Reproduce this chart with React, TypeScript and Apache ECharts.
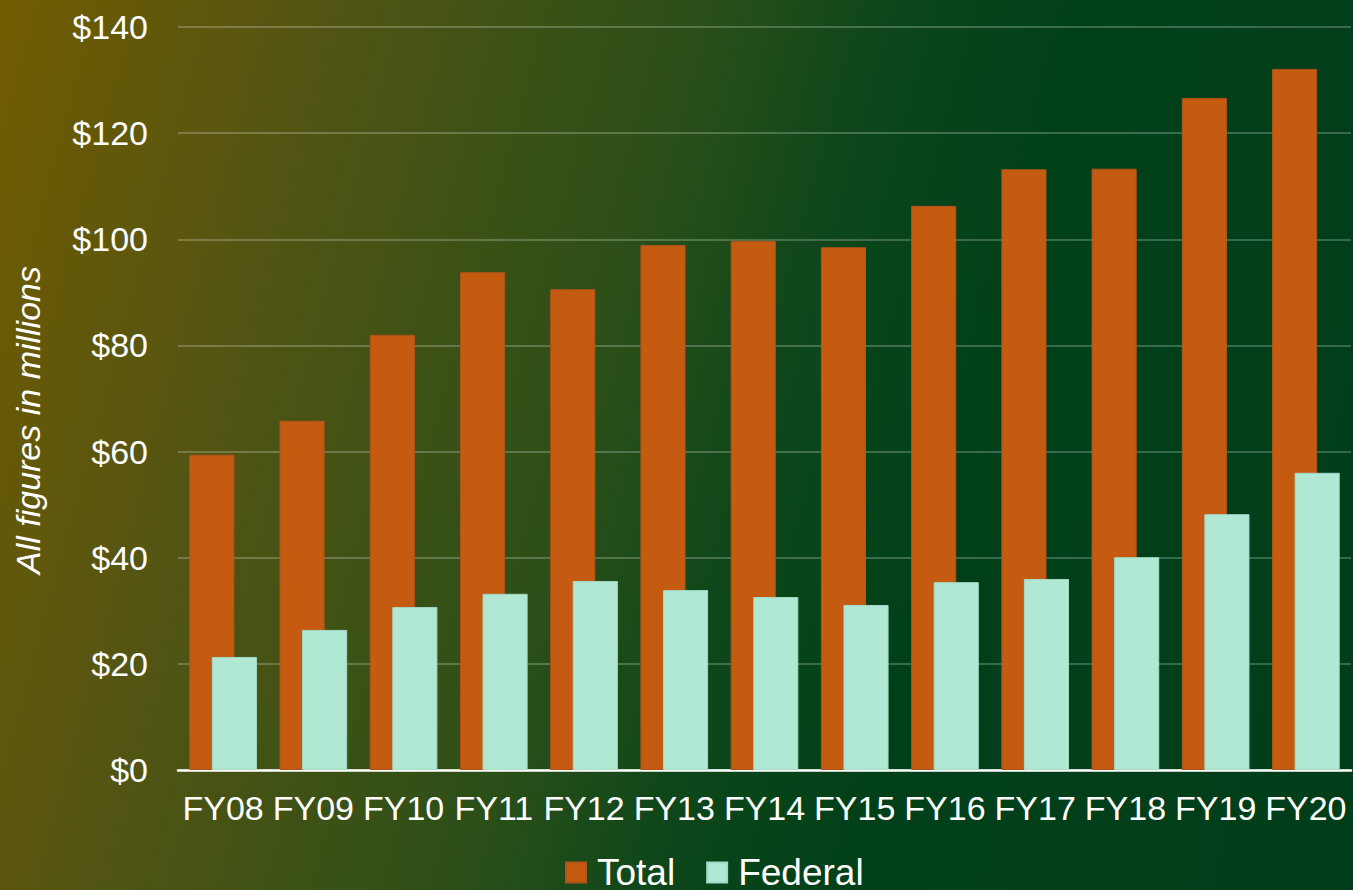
import React, { useEffect, useRef } from "react";
import * as echarts from "echarts";

const categories = ["FY08", "FY09", "FY10", "FY11", "FY12", "FY13", "FY14", "FY15", "FY16", "FY17", "FY18", "FY19", "FY20"];
const totalValues = [59.4, 65.8, 82.0, 93.8, 90.6, 98.9, 99.7, 98.5, 106.3, 113.2, 113.3, 126.6, 132.1];
const federalValues = [21.3, 26.4, 30.7, 33.2, 35.6, 33.9, 32.6, 31.1, 35.4, 36.0, 40.1, 48.2, 56.0];
const seriesNames = ["Total", "Federal"];
const yAxisName = "All figures in millions";

const FONT = "'Liberation Sans', Arial, sans-serif";

export default function App() {
  const ref = useRef<HTMLDivElement>(null);
  useEffect(() => {
    if (!ref.current) return;
    const chart = echarts.init(ref.current, null, { renderer: "svg" });
    chart.setOption({
      animation: false,
      backgroundColor: "transparent",
      textStyle: { fontFamily: FONT },
      grid: { left: 178, right: 2, top: 27, bottom: 120, containLabel: false },
      legend: {
        left: 565,
        top: 854,
        padding: 0,
        itemWidth: 20,
        itemHeight: 20,
        itemGap: 31,
        icon: "rect",
        data: seriesNames,
        textStyle: { color: "#ffffff", fontSize: 37, fontFamily: FONT, padding: [0, 0, 0, 6] },
      },
      graphic: [
        {
          type: "text",
          x: 28,
          y: 420,
          rotation: Math.PI / 2,
          style: {
            text: yAxisName,
            fill: "#ffffff",
            fontSize: 34,
            fontStyle: "italic",
            fontFamily: FONT,
            textAlign: "center",
            textVerticalAlign: "middle",
            verticalAlign: "middle",
          },
        },
      ],
      xAxis: {
        type: "category",
        data: categories,
        axisLine: { show: true, lineStyle: { color: "#ffffff", width: 2.5 } },
        axisTick: { show: false },
        axisLabel: { color: "#ffffff", fontSize: 34, margin: 21, fontFamily: FONT, interval: 0 },
      },
      yAxis: {
        type: "value",
        min: 0,
        max: 140,
        interval: 20,
        axisLine: { show: false },
        axisTick: { show: false },
        axisLabel: { color: "#ffffff", fontSize: 34, margin: 30, fontFamily: FONT, formatter: "${value}" },
        splitLine: { lineStyle: { color: "rgba(255,255,255,0.3)", width: 1.5 } },
      },
      series: [
        {
          name: seriesNames[0],
          type: "bar",
          data: totalValues,
          barGap: "-50%",
          barCategoryGap: "25%",
          itemStyle: { color: "#c55a11", borderColor: "#b0531a", borderWidth: 1 },
        },
        {
          name: seriesNames[1],
          type: "bar",
          data: federalValues,
          barGap: "-50%",
          barCategoryGap: "25%",
          itemStyle: { color: "#b0e8d4", borderColor: "#a3d9c5", borderWidth: 1 },
        },
      ],
    });
    return () => chart.dispose();
  }, []);
  return (
    <div
      style={{
        position: "fixed",
        left: 0,
        top: 0,
        width: 1353,
        height: 890,
        background:
          "linear-gradient(105deg, #715c00 0%, #565512 18%, #2b4f18 44%, #0f471a 55%, #004019 68%, #003e1b 100%)",
      }}
    >
      <div ref={ref} style={{ width: 1353, height: 890 }} />
    </div>
  );
}
